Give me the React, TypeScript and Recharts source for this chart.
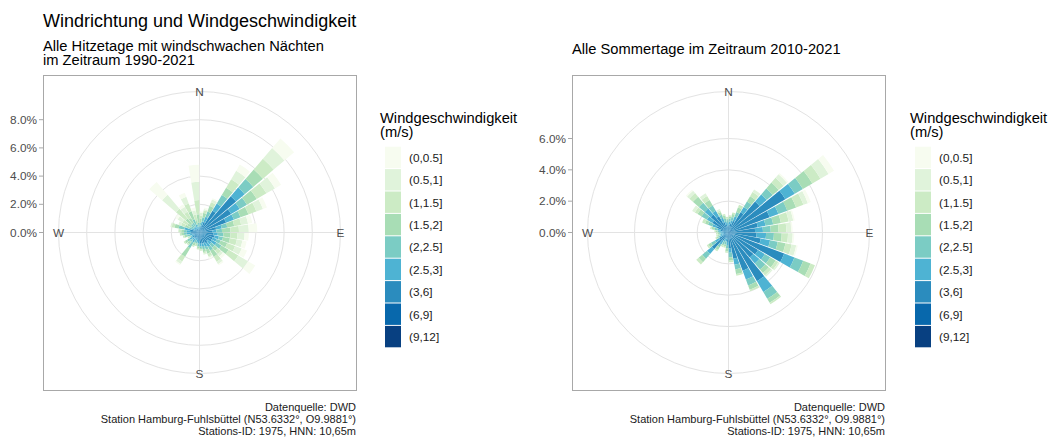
import React from 'react';
import { RadialBarChart, RadialBar, PolarAngleAxis, PolarRadiusAxis, PolarGrid } from 'recharts';

// Windrichtung in Grad (10°-Sektoren), N = 0
const DIRECTIONS = [0, 10, 20, 30, 40, 50, 60, 70, 80, 90, 100, 110, 120, 130, 140, 150, 160, 170,
  180, 190, 200, 210, 220, 230, 240, 250, 260, 270, 280, 290, 300, 310, 320, 330, 340, 350];
const SPEED_CLASSES = ['(0,0.5]', '(0.5,1]', '(1,1.5]', '(1.5,2]', '(2,2.5]', '(2.5,3]', '(3,6]', '(6,9]', '(9,12]'];
const SPEED_COLORS = ['#f7fcf0', '#e0f3db', '#ccebc5', '#a8ddb5', '#7bccc4', '#4eb3d3', '#2b8cbe', '#0868ac', '#084081'];
const COMPASS: Record<number, string> = { 0: 'N', 90: 'E', 180: 'S', 270: 'W' };

// Hitzetage mit windschwachen Naechten 1990-2021 (Anteil in %)
const hitze_0_05 = [1.2, 0.1, 0.1, 0.1, 0.5, 0.9, 0.5, 0.3, 0.3, 0.6, 0.3, 0.3, 0.4, 0.6, 0.2, 0.1, 0.1, 0, 0, 0, 0, 0, 0.1, 0, 0, 0, 0, 0, 0, 0, 0, 0.2, 1.2, 0.2, 0.3, 0.2];
const hitze_05_1 = [1.3, 0.2, 0.1, 0.2, 0.7, 1.0, 0.7, 0.5, 0.5, 0.7, 0.5, 0.4, 0.5, 0.8, 0.2, 0.2, 0.1, 0.1, 0, 0, 0, 0, 0.2, 0, 0, 0, 0, 0, 0, 0.1, 0.2, 0.4, 1.3, 0.4, 0.5, 0.3];
const hitze_1_15 = [1.0, 0.2, 0.2, 0.3, 0.7, 1.0, 0.8, 0.6, 0.5, 0.6, 0.5, 0.5, 0.6, 0.8, 0.3, 0.4, 0.2, 0.1, 0.1, 0.1, 0.1, 0.1, 0.4, 0.1, 0.1, 0.1, 0.1, 0.1, 0.2, 0.2, 0.3, 0.4, 0.9, 0.5, 0.6, 0.4];
const hitze_15_2 = [0.6, 0.3, 0.3, 0.4, 0.6, 0.9, 0.8, 0.6, 0.5, 0.6, 0.5, 0.5, 0.5, 0.6, 0.3, 0.5, 0.3, 0.2, 0.1, 0.1, 0.1, 0.2, 0.7, 0.2, 0.2, 0.1, 0.2, 0.2, 0.2, 0.3, 0.3, 0.3, 0.5, 0.4, 0.6, 0.3];
const hitze_2_25 = [0.3, 0.2, 0.3, 0.4, 0.7, 0.8, 0.6, 0.5, 0.4, 0.4, 0.4, 0.3, 0.3, 0.4, 0.3, 0.3, 0.2, 0.2, 0.1, 0.2, 0.1, 0.2, 0.5, 0.2, 0.2, 0.1, 0.2, 0.2, 0.2, 0.4, 0.2, 0.2, 0.3, 0.3, 0.4, 0.2];
const hitze_25_3 = [0.2, 0.2, 0.3, 0.4, 0.6, 0.8, 0.7, 0.6, 0.4, 0.3, 0.3, 0.3, 0.3, 0.4, 0.3, 0.3, 0.3, 0.2, 0.2, 0.2, 0.2, 0.2, 0.3, 0.2, 0.2, 0.2, 0.2, 0.3, 0.3, 0.4, 0.2, 0.2, 0.2, 0.2, 0.3, 0.2];
const hitze_3_6 = [0.2, 0.3, 0.5, 0.8, 1.7, 3.3, 2.5, 2.0, 1.2, 0.9, 1.0, 1.1, 1.0, 1.0, 0.8, 0.9, 0.8, 0.8, 0.6, 0.6, 0.5, 0.4, 0.5, 0.5, 0.6, 0.4, 0.5, 0.6, 0.6, 0.7, 0.4, 0.3, 0.3, 0.3, 0.3, 0.2];
const hitze_6_9 = [0, 0, 0, 0, 0.1, 0.1, 0.1, 0, 0, 0, 0, 0, 0, 0, 0, 0, 0, 0, 0.2, 0, 0, 0, 0, 0, 0, 0, 0, 0, 0, 0, 0, 0, 0, 0, 0, 0];
const hitze_9_12 = [0, 0, 0, 0, 0, 0, 0, 0, 0, 0, 0, 0, 0, 0, 0, 0, 0, 0, 0, 0, 0, 0, 0, 0, 0, 0, 0, 0, 0, 0, 0, 0, 0, 0, 0, 0];

// Sommertage 2010-2021 (Anteil in %)
const sommer_0_05 = [0, 0, 0, 0, 0, 0.1, 0.4, 0.2, 0.1, 0.1, 0.1, 0.1, 0, 0, 0, 0, 0, 0, 0, 0, 0, 0, 0, 0, 0, 0, 0, 0, 0, 0, 0, 0, 0.1, 0, 0, 0];
const sommer_05_1 = [0, 0, 0, 0, 0.2, 0.3, 0.6, 0.3, 0.3, 0.3, 0.3, 0.3, 0, 0.1, 0.1, 0, 0, 0, 0, 0, 0, 0, 0, 0, 0, 0, 0, 0, 0, 0, 0, 0.2, 0.2, 0.2, 0.1, 0];
const sommer_1_15 = [0.1, 0.1, 0.1, 0.2, 0.3, 0.4, 0.6, 0.5, 0.5, 0.5, 0.4, 0.4, 0.3, 0.2, 0.2, 0.1, 0.1, 0.1, 0.1, 0.1, 0.1, 0.1, 0.1, 0.2, 0.1, 0.1, 0.1, 0.1, 0.1, 0.1, 0.2, 0.2, 0.3, 0.3, 0.1, 0.1];
const sommer_15_2 = [0.1, 0.1, 0.2, 0.3, 0.4, 0.5, 0.7, 0.6, 0.5, 0.5, 0.5, 0.5, 0.5, 0.4, 0.3, 0.3, 0.3, 0.3, 0.2, 0.2, 0.1, 0.1, 0.2, 0.3, 0.2, 0.1, 0.1, 0.1, 0.1, 0.2, 0.2, 0.3, 0.5, 0.4, 0.2, 0.2];
const sommer_2_25 = [0.2, 0.2, 0.2, 0.3, 0.4, 0.5, 0.6, 0.6, 0.5, 0.5, 0.5, 0.5, 0.6, 0.4, 0.5, 0.5, 0.4, 0.3, 0.3, 0.2, 0.2, 0.2, 0.2, 0.4, 0.3, 0.1, 0.1, 0.1, 0.1, 0.2, 0.3, 0.4, 0.5, 0.4, 0.2, 0.2];
const sommer_25_3 = [0.2, 0.2, 0.2, 0.3, 0.4, 0.6, 0.7, 0.6, 0.5, 0.5, 0.6, 0.6, 0.7, 0.5, 0.5, 0.8, 0.6, 0.4, 0.3, 0.2, 0.2, 0.2, 0.3, 0.4, 0.3, 0.2, 0.2, 0.2, 0.2, 0.2, 0.3, 0.4, 0.5, 0.4, 0.3, 0.2];
const sommer_3_6 = [0.4, 0.5, 0.6, 0.8, 1.5, 2.4, 3.9, 2.6, 1.8, 1.7, 1.8, 2.0, 3.5, 2.1, 2.0, 3.3, 2.4, 1.6, 1.0, 0.6, 0.4, 0.4, 0.6, 1.4, 0.7, 0.4, 0.3, 0.3, 0.4, 0.5, 0.8, 1.2, 1.5, 1.2, 0.7, 0.5];
const sommer_6_9 = [0, 0, 0, 0, 0, 0.2, 0.3, 0.2, 0.1, 0, 0, 0.1, 0.3, 0.1, 0.1, 0.3, 0.2, 0.1, 0, 0, 0, 0, 0, 0, 0, 0, 0, 0, 0, 0, 0, 0, 0, 0, 0, 0];
const sommer_9_12 = [0, 0, 0, 0, 0, 0, 0, 0, 0, 0, 0, 0, 0, 0, 0, 0, 0, 0, 0, 0, 0, 0, 0, 0, 0, 0, 0, 0, 0, 0, 0, 0, 0, 0, 0, 0];

const HITZE_TICKS = [0, 2, 4, 6, 8];
const SOMMER_TICKS = [0, 2, 4, 6];

const FOOTER = ['Datenquelle: DWD', 'Station Hamburg-Fuhlsbüttel (N53.6332°, O9.9881°)', 'Stations-ID: 1975, HNN: 10,65m'];

const buildRows = (series: number[][]) =>
  DIRECTIONS.map((dir, i) => {
    const row: Record<string, number> = { dir };
    series.forEach((vals, k) => { row['s' + k] = vals[i]; });
    return row;
  });

const hitzeRows = buildRows([hitze_0_05, hitze_05_1, hitze_1_15, hitze_15_2, hitze_2_25, hitze_25_3, hitze_3_6, hitze_6_9, hitze_9_12]);
const sommerRows = buildRows([sommer_0_05, sommer_05_1, sommer_1_15, sommer_15_2, sommer_2_25, sommer_25_3, sommer_3_6, sommer_6_9, sommer_9_12]);

const FONT = '"Liberation Sans", Arial, sans-serif';
const OUTER_R = 141;
const BOX_TOP = 75;
const BOX_W = 313;
const BOX_H = 315;

type RoseProps = { rows: Record<string, number>[]; maxPct: number; ticks: number[]; width: number; boxLeft: number };

const WindRose = ({ rows, maxPct, ticks, width, boxLeft }: RoseProps) => {
  const cx = boxLeft + BOX_W / 2;
  const cy = BOX_H / 2;

  // compass letters sit on the outer ring
  const angleTick = (props: any) => {
    const label = COMPASS[props.payload?.value];
    if (!label) return <g />;
    const dx = props.x - cx;
    const dy = props.y - cy;
    const len = Math.hypot(dx, dy) || 1;
    return (
      <text x={cx + (dx / len) * OUTER_R} y={cy + (dy / len) * OUTER_R} textAnchor="middle"
        dominantBaseline="central" fill="#4d4d4d" fontSize={11.8}>{label}</text>
    );
  };

  // percent labels left of the panel box, like ggplot's y axis
  const radiusTick = (props: any) => (
    <g>
      <line x1={boxLeft - 4} x2={boxLeft} y1={props.y} y2={props.y} stroke="#a8a8a8" />
      <text x={boxLeft - 6} y={props.y} textAnchor="end" dominantBaseline="central" fill="#4d4d4d" fontSize={11.8}>
        {Number(props.payload.value).toFixed(1)}%
      </text>
    </g>
  );

  return (
    <RadialBarChart width={width} height={BOX_H} data={rows} cx={cx} cy={cy} innerRadius={0} outerRadius={OUTER_R}
      startAngle={90} endAngle={-270} layout="centric" barCategoryGap="3%" margin={{ top: 0, right: 0, bottom: 0, left: 0 }}>
      <PolarGrid gridType="circle" polarAngles={[0, 90, 180, 270]} stroke="#e3e3e3" />
      <PolarAngleAxis dataKey="dir" type="category" tick={angleTick} tickLine={false} axisLineType="circle" stroke="#e3e3e3" />
      <PolarRadiusAxis type="number" angle={90} domain={[0, maxPct]} ticks={ticks} tick={radiusTick}
        axisLine={false} tickLine={false} allowDataOverflow />
      {SPEED_CLASSES.map((_, i) => SPEED_CLASSES.length - 1 - i).map((k) => (
        <RadialBar key={k} dataKey={'s' + k} stackId="wind" fill={SPEED_COLORS[k]}
          isAnimationActive={false} />
      ))}
    </RadialBarChart>
  );
};

const Legend = ({ x }: { x: number }) => (
  <g>
    <text x={x} y={123} fontSize={14.7} fill="#000">Windgeschwindigkeit</text>
    <text x={x} y={137} fontSize={14.7} fill="#000">(m/s)</text>
    {SPEED_CLASSES.map((label, i) => (
      <g key={label}>
        <rect x={x + 5} y={146.7 + i * 22.4} width={16} height={21.4} fill={SPEED_COLORS[i]} />
        <text x={x + 29} y={146.7 + i * 22.4 + 15} fontSize={11.8} fill="#1a1a1a">{label}</text>
      </g>
    ))}
  </g>
);

const Footer = ({ right }: { right: number }) => (
  <g>
    {FOOTER.map((line, i) => (
      <text key={i} x={right} y={411 + i * 12} textAnchor="end" fontSize={11} fill="#1a1a1a">{line}</text>
    ))}
  </g>
);

export default function App() {
  return (
    <div style={{ position: 'absolute', left: 0, top: 0, width: 1049, height: 441, background: '#fff', fontFamily: FONT }}>
      <div style={{ position: 'absolute', left: 0, top: BOX_TOP }}>
        <WindRose rows={hitzeRows} maxPct={9.72} ticks={HITZE_TICKS} width={357} boxLeft={43} />
      </div>
      <div style={{ position: 'absolute', left: 520, top: BOX_TOP }}>
        <WindRose rows={sommerRows} maxPct={8.6} ticks={SOMMER_TICKS} width={366} boxLeft={52} />
      </div>
      <svg width={1049} height={441} style={{ position: 'absolute', left: 0, top: 0, pointerEvents: 'none' }}>
        <rect x={43.5} y={BOX_TOP + 0.5} width={BOX_W} height={BOX_H} fill="none" stroke="#a8a8a8" />
        <rect x={572.5} y={BOX_TOP + 0.5} width={BOX_W} height={BOX_H} fill="none" stroke="#a8a8a8" />
        <text x={43} y={27} fontSize={18} fill="#000">Windrichtung und Windgeschwindigkeit</text>
        <text x={43} y={51} fontSize={14.7} fill="#000">Alle Hitzetage mit windschwachen Nächten</text>
        <text x={43} y={65} fontSize={14.7} fill="#000">im Zeitraum 1990-2021</text>
        <text x={572} y={54} fontSize={14.7} fill="#000">Alle Sommertage im Zeitraum 2010-2021</text>
        <Legend x={380} />
        <Legend x={910} />
        <Footer right={356} />
        <Footer right={885} />
      </svg>
    </div>
  );
}
